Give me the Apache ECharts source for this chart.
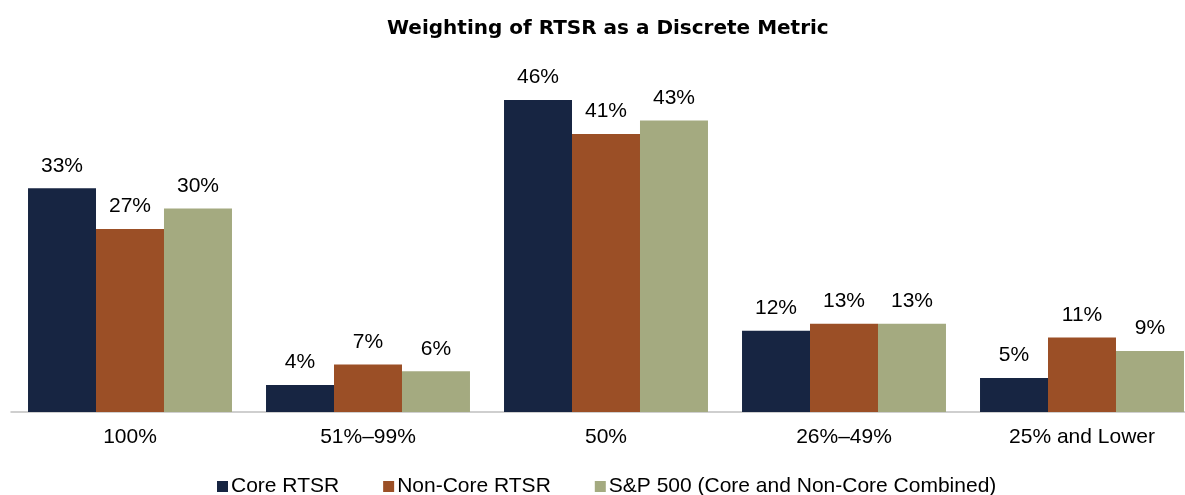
<!DOCTYPE html>
<html lang="en">
<head>
    <meta charset="UTF-8">
    <title>Weighting of RTSR as a Discrete Metric</title>
    <script src="https://cdn.jsdelivr.net/npm/echarts@6/dist/echarts.min.js"></script>
    <style>
        body { margin: 0; background: #fff; overflow: hidden; }
    </style>
</head>
<body>
    <!-- the original is cropped a little on the right, so the chart is drawn a bit wider than the window -->
    <div id="main" style="width: 1201px;height:495px;"></div>
    <script type="text/javascript">
        // chart data
        const categories = ['100%', '51%\u201399%', '50%', '26%\u201349%', '25% and Lower'];
        const seriesNames = ['Core RTSR', 'Non-Core RTSR', 'S&P 500 (Core and Non-Core Combined)'];
        const coreValues = [33, 4, 46, 12, 5];
        const nonCoreValues = [27, 7, 41, 13, 11];
        const spValues = [30, 6, 43, 13, 9];
        const colors = ['#172542', '#9b4f26', '#a4aa80'];

        const font = 'Liberation Sans, Arial, sans-serif';

        function makeSeries(name, data, color) {
            return {
                name: name,
                type: 'bar',
                data: data,
                barGap: '0%',
                barCategoryGap: '14.3%',
                itemStyle: { color: color },
                label: {
                    show: true,
                    position: 'top',
                    distance: 12,
                    formatter: '{c}%',
                    color: '#000',
                    fontFamily: font,
                    fontSize: 21
                }
            };
        }

        let options = {
            animation: false,
            title: {
                text: 'Weighting of RTSR as a Discrete Metric',
                left: 382,
                top: 14,
                textStyle: { fontFamily: 'DejaVu Sans', fontWeight: 'bold', fontSize: 20, color: '#000' }
            },
            legend: {
                top: 471,
                left: 212,
                itemWidth: 11,
                itemHeight: 11,
                itemGap: 44,
                icon: 'rect',
                textStyle: { fontFamily: font, fontSize: 21, color: '#000', padding: [0, 0, 0, -2] },
                data: seriesNames
            },
            grid: { left: 11, right: 0, top: 73, bottom: 83 },
            xAxis: {
                type: 'category',
                data: categories,
                axisTick: { show: false },
                axisLine: { lineStyle: { color: '#c0c0c0', width: 1.5 } },
                axisLabel: { fontFamily: font, fontSize: 21, color: '#000', margin: 15 }
            },
            yAxis: {
                type: 'value',
                min: 0,
                max: 50,
                show: false,
                splitLine: { show: false }
            },
            series: [
                makeSeries(seriesNames[0], coreValues, colors[0]),
                makeSeries(seriesNames[1], nonCoreValues, colors[1]),
                makeSeries(seriesNames[2], spValues, colors[2])
            ]
        };

        let myChart = echarts.init(document.getElementById('main'));
        myChart.setOption(options);
    </script>
</body>
</html>
